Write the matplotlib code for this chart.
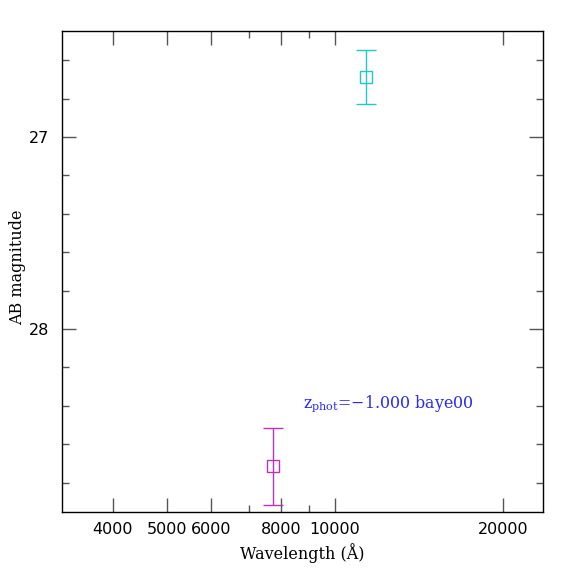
import matplotlib
matplotlib.use("Agg")
import matplotlib.pyplot as plt
from matplotlib.ticker import FixedLocator, NullFormatter, FixedFormatter

wavelength = [7743, 11365]
magnitude = [28.714, 26.6875]
mag_err = [0.20, 0.14]
colors = ['#c030c0', '#20c8c8']
xticks_major = [4000, 5000, 6000, 8000, 10000, 20000]
xtick_labels = ['4000', '5000', '6000', '8000', '10000', '20000']
xticks_minor = [7000, 9000]
yticks_major = [27, 28]
yticks_minor = [26.6, 26.8, 27.2, 27.4, 27.6, 27.8, 28.2, 28.4, 28.6, 28.8]

fig = plt.figure(figsize=(5.74, 5.74), dpi=100)
ax = fig.add_axes([62/574, 1-512/574, (543-62)/574, (512-31)/574])

for w, m, e, c in zip(wavelength, magnitude, mag_err, colors):
    ax.errorbar([w], [m], yerr=[e], fmt='s', mfc='none', mec=c, ecolor=c,
                ms=8, mew=1.0, capsize=7, elinewidth=1.0, capthick=1.0)

ax.set_xscale('log')
ax.set_xlim(3243, 23590)
ax.set_ylim(28.953, 26.448)

ax.xaxis.set_major_locator(FixedLocator(xticks_major))
ax.xaxis.set_major_formatter(FixedFormatter(xtick_labels))
ax.xaxis.set_minor_locator(FixedLocator(xticks_minor))
ax.xaxis.set_minor_formatter(NullFormatter())
ax.yaxis.set_major_locator(FixedLocator(yticks_major))
ax.yaxis.set_minor_locator(FixedLocator(yticks_minor))

ax.tick_params(which='both', direction='in', top=True, right=True, color='#555555')
ax.tick_params(which='major', length=10, width=1.0, labelsize=11.5)
ax.tick_params(axis='x', which='major', pad=7)
ax.tick_params(axis='y', which='major', pad=9)
ax.tick_params(which='minor', length=5, width=1.0)
for s in ax.spines.values():
    s.set_linewidth(1.0)

ax.set_xlabel('Wavelength (Å)', family='DejaVu Serif', fontsize=11.5)
ax.xaxis.set_label_coords(0.5, -(553 - 512) / 481, transform=ax.transAxes)
ax.set_ylabel('AB magnitude', family='DejaVu Serif', fontsize=11.5)
ax.yaxis.set_label_coords(-(62 - 18) / 481, 1 - (267 - 31) / 481, transform=ax.transAxes)
ax.xaxis.label.set_va('center')
ax.yaxis.label.set_va('center')
ax.text(8767, 28.41, r'z$_{\mathregular{phot}}$=−1.000 baye00', color='#2828ff',
        fontsize=11.4, family='DejaVu Serif')

fig.savefig('out.png', dpi=100)
